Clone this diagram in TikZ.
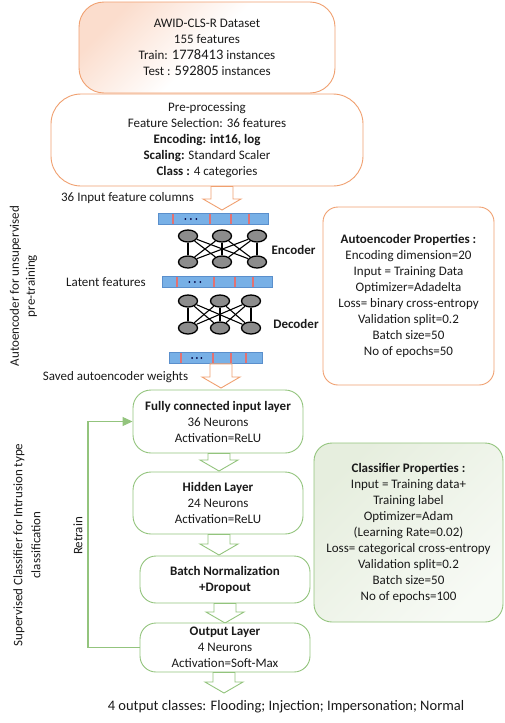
\documentclass[tikz,border=0pt]{standalone}
\usepackage{fontspec}
\setmainfont{Carlito}
\usetikzlibrary{shapes.geometric,calc,arrows.meta}
\definecolor{obord}{HTML}{F0A070}
\definecolor{gbord}{HTML}{93C47D}
\definecolor{peach}{HTML}{FBDDCD}
\definecolor{glight}{HTML}{E6EEDE}
\definecolor{glight2}{HTML}{F7FAF5}
\definecolor{barblue}{HTML}{78B0E6}
\definecolor{barbord}{HTML}{5A8FCC}
\definecolor{stripe}{HTML}{E27272}
\definecolor{neuron}{HTML}{8C8C8C}
\definecolor{txt}{HTML}{1A1A1A}
\newcommand\myfont{\fontsize{13}{16}\selectfont}
\newcommand\bignum[1]{{\fontsize{14.5}{16}\selectfont #1}}
\newcommand\blockarr[3]{\draw[#1,fill=white,line width=0.9pt,line join=miter] let \p1=#2, \p2=#3 in (\x2-11pt,\y1) -- (\x2+11pt,\y1) -- (\x2+11pt,\y2+11pt) -- (\x2+19pt,\y2+11pt) -- (\x2,\y2) -- (\x2-19pt,\y2+11pt) -- (\x2-11pt,\y2+11pt) -- cycle;}
\newcommand\featbar[3]{%
  \node[fbar, minimum width=#3] (#1) at #2 {};
  \foreach \f in {0.136,0.475,0.665,0.825}
    \draw[stripe, line width=2.2pt] ($(#1.south west)!\f!(#1.south east)+(0,-0.6)$) -- ($(#1.north west)!\f!(#1.north east)+(0,0.6)$);
  \foreach \f in {0.25,0.30,0.35}
    \fill[black!75!blue] ($(#1.west)!\f!(#1.east)$) circle (1pt);
}
\tikzset{
  obox/.style={draw=obord, line width=0.9pt, align=center, inner sep=0pt, text=txt},
  gbox/.style={draw=gbord, line width=0.9pt, align=center, inner sep=0pt, text=txt, fill=white},
  lbl/.style={inner sep=0pt, text=txt},
  fbar/.style={rectangle, draw=barbord, line width=0.7pt, fill=barblue, minimum height=11pt, inner sep=0pt},
  neur/.style={ellipse, draw=black, line width=1.3pt, fill=neuron, minimum width=19pt, minimum height=12pt, inner sep=0pt},
  nedge/.style={draw=black, line width=1.1pt},
  gline/.style={draw=gbord, line width=1.1pt}
}
\begin{document}
\begin{tikzpicture}[x=1pt,y=-1pt, font=\myfont]
\useasboundingbox (0,0) rectangle (505,723);

\coordinate (t1) at (222,210);
\coordinate (t2) at (221,388);
\coordinate (t3) at (219,471);
\coordinate (t4) at (219,555);
\coordinate (t5) at (225,623);
\coordinate (t6) at (224,693);

% top boxes
\node[obox, rounded corners=25pt, minimum width=256pt, minimum height=91pt,
      top color=peach, bottom color=white, middle color=white, shading angle=45] (data) at (207,47.5)
  {\fontsize{13}{16.7}\selectfont AWID-CLS-R Dataset\\155 features\\Train: \bignum{1778413}  instances\\Test : \bignum{592805} instances};
\node[obox, fill=white, rounded corners=30pt, minimum width=312pt, minimum height=92pt] (pre) at (207,140)
  {Pre-processing\\Feature Selection: 36 features\\\textbf{Encoding: int16, log}\\\textbf{Scaling:} Standard Scaler\\\textbf{Class :}  4 categories};

\blockarr{obord}{(pre.south)}{(t1)}

% autoencoder graphics
\featbar{bar1}{(213,219)}{110pt}
\foreach \x [count=\i] in {188,222,257} {
  \node[neur] (a\i) at (\x,236) {};
  \node[neur] (b\i) at (\x,262) {};
}
\foreach \i in {1,2,3} \foreach \j in {1,2,3} \draw[nedge] (a\i) -- (b\j);

\featbar{bar2}{(217,282)}{110pt}
\foreach \x [count=\i] in {188,220,251} {
  \node[neur] (c\i) at (\x,301) {};
  \node[neur] (d\i) at (\x,328) {};
}
\foreach \i in {1,2,3} \foreach \j in {1,2,3} \draw[nedge] (c\i) -- (d\j);

\featbar{bar3}{(215.5,358)}{93pt}
\blockarr{obord}{(bar3.south)}{(t2)}

\node[lbl] (inlab) at (127.5,198) {36 Input feature columns};
\node[lbl, font=\myfont\bfseries] (enc) at (293.5,250) {Encoder};
\node[lbl] (latlab) at (106,282) {Latent features};
\node[lbl, font=\myfont\bfseries] (dec) at (296,324) {Decoder};
\node[lbl] (savlab) at (115.5,377) {Saved autoencoder weights};

\node[obox, fill=white, rounded corners=15pt, minimum width=171pt, minimum height=178pt] (aeprop) at (408.5,296)
  {\textbf{Autoencoder Properties :}\\Encoding dimension=20\\Input = Training Data\\Optimizer=Adadelta\\Loss= binary cross-entropy\\Validation split=0.2\\Batch size=50\\No of epochs=50};

\node[lbl, rotate=90, align=center] (aelab) at (23.5,286) {Autoencoder for unsupervised\\pre-training};

% classifier
\node[gbox, rounded corners=18pt, minimum width=170pt, minimum height=63pt] (fc) at (218,421.5)
  {\textbf{Fully connected input layer}\\36 Neurons\\Activation=ReLU};
\blockarr{gbord}{(fc.south)}{(t3)}
\node[gbox, rounded corners=18pt, minimum width=170pt, minimum height=62pt] (hid) at (218,503)
  {\textbf{Hidden Layer}\\24 Neurons\\Activation=ReLU};
\blockarr{gbord}{(hid.south)}{(t4)}
\node[gbox, rounded corners=16pt, minimum width=170pt, minimum height=47pt] (bn) at (225,579.5)
  {\textbf{Batch Normalization}\\\textbf{+Dropout}};
\blockarr{gbord}{(bn.south)}{(t5)}
\node[gbox, rounded corners=16pt, minimum width=170pt, minimum height=49pt] (out) at (225,647.5)
  {\textbf{Output Layer}\\4  Neurons\\Activation=Soft-Max};
\blockarr{gbord}{(out.south)}{(t6)}

\node[lbl, font=\fontsize{14.5}{16}\selectfont] (classes) at (286,707) {4 output classes: Flooding; Injection; Impersonation; Normal};

\node[gbox, rounded corners=18pt, minimum width=189pt, minimum height=179pt,
      top color=glight, bottom color=glight2, shading angle=45] (clprop) at (408.5,532.5)
  {\textbf{Classifier Properties :}\\Input = Training data+\\Training label\\Optimizer=Adam\\(Learning Rate=0.02)\\Loss= categorical cross-entropy\\Validation split=0.2\\Batch size=50\\No of epochs=100};

\coordinate (rx) at (88,0);
\draw[gline, -{Triangle[length=10pt,width=9pt]}] (out.west) -| (rx |- fc.west) -- (fc.west);
\node[lbl, rotate=90] (retrain) at (78,536) {Retrain};
\node[lbl, rotate=90, align=center] (cllab) at (27,545) {Supervised Classifier for Intrusion type\\[2pt]classification};
\end{tikzpicture}
\end{document}
